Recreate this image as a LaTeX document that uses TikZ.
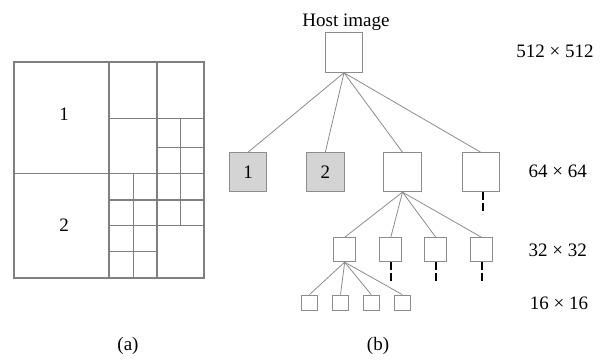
\documentclass[tikz,border=0pt]{standalone}
\usepackage{fontspec}
\setmainfont{Liberation Serif}
\begin{document}
\begin{tikzpicture}[x=1pt,y=-1pt,
  gridline/.style={draw=black!50,line width=1.1pt},
  tbox/.style={draw=black!45,line width=0.9pt,rectangle,inner sep=0pt,fill=white},
  big/.style={tbox,minimum width=37.5pt,minimum height=39pt},
  mid/.style={tbox,minimum width=22pt,minimum height=24pt},
  small/.style={tbox,minimum width=15.5pt,minimum height=15pt},
  shaded/.style={fill=black!17},
  conn/.style={draw=black!45,line width=0.8pt},
  cont/.style={draw=black,line width=2pt,dash pattern=on 8pt off 3pt},
  lbl/.style={font=\fontsize{19}{22}\selectfont,inner sep=0pt,anchor=base}]
\useasboundingbox (0,0) rectangle (602,359);
% ---------- (a) quadtree partition ----------
\draw[gridline] (14,62) rectangle (204,278);
\draw[gridline] (109,62) -- (109,278);
\draw[gridline] (14,173.3) -- (204,173.3);
\draw[gridline] (157,62) -- (157,278);
\draw[gridline] (109,118.3) -- (204,118.3);
\draw[gridline] (180.7,118.3) -- (180.7,225.7);
\draw[gridline] (157,147.3) -- (204,147.3);
\draw[gridline] (109,200) -- (204,200);
\draw[gridline] (109,225.7) -- (204,225.7);
\draw[gridline] (109,251.7) -- (157,251.7);
\draw[gridline] (133.3,173.3) -- (133.3,278);
\node[lbl] (a1) at (64,120) {1};
\node[lbl] (a2) at (64,231.7) {2};
\node[lbl] (capa) at (128,350) {(a)};
% ---------- (b) tree ----------
\node[lbl] (host) at (346,26) {Host image};
\node[tbox,minimum width=37.5pt,minimum height=40pt] (root) at (344,52.3) {};
\node[big,shaded,font=\fontsize{19}{22}\selectfont] (n1) at (248,172.2) {1};
\node[big,shaded,font=\fontsize{19}{22}\selectfont] (n2) at (325.3,172.2) {2};
\node[big] (n3) at (402.5,172.2) {};
\node[big] (n4) at (480.7,172.2) {};
\foreach \i in {1,...,4} \draw[conn] (root.south) -- (n\i.north);
\node[mid] (m1) at (344.7,249.7) {};
\node[mid] (m2) at (390.8,249.7) {};
\node[mid] (m3) at (435.8,249.7) {};
\node[mid] (m4) at (481.5,249.7) {};
\foreach \i in {1,...,4} \draw[conn] (n3.south) -- (m\i.north);
\node[small] (s1) at (309.5,302.5) {};
\node[small] (s2) at (340.5,302.5) {};
\node[small] (s3) at (371.2,302.5) {};
\node[small] (s4) at (402.2,302.5) {};
\foreach \i in {1,...,4} \draw[conn] (m1.south) -- (s\i.north);
% continuation marks
\coordinate (c4) at ([xshift=2.5pt,yshift=-22pt]n4.south);
\draw[cont] ([xshift=2.5pt]n4.south) -- (c4);
\foreach \i in {2,3,4} {
  \coordinate (d\i) at ([yshift=-19pt]m\i.south);
  \draw[cont] (m\i.south) -- (d\i);
}
\node[lbl] (r1) at (555,57.3) {512 × 512};
\node[lbl] (r2) at (557.8,177.3) {64 × 64};
\node[lbl] (r3) at (557.8,256) {32 × 32};
\node[lbl] (r4) at (559,309.3) {16 × 16};
\node[lbl] (capb) at (378,350) {(b)};
\end{tikzpicture}
\end{document}
